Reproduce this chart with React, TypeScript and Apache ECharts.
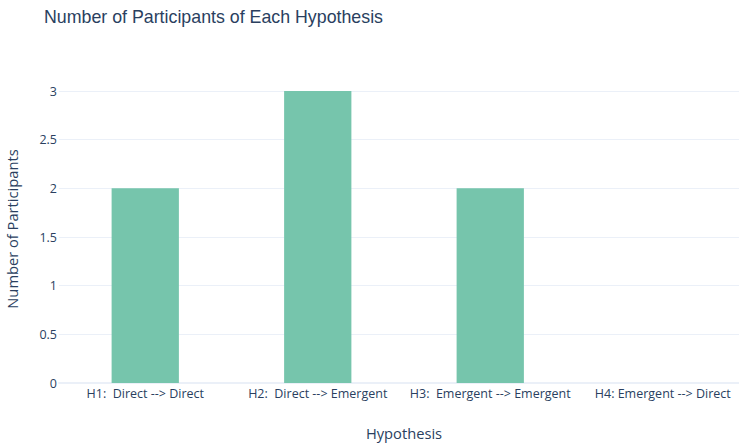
import React, { useEffect, useRef } from "react";
import * as echarts from "echarts";

const categories = [
  "H1:  Direct --> Direct",
  "H2:  Direct --> Emergent",
  "H3:  Emergent --> Emergent",
  "H4: Emergent --> Direct",
];
const participants = [2, 3, 2, 0];
const yTicks = { min: 0, max: 3, interval: 0.5 };

export default function App() {
  const ref = useRef<HTMLDivElement>(null);
  useEffect(() => {
    document.body.style.margin = "0";
    const chart = echarts.init(ref.current!, null, { renderer: "svg" });
    const textColor = "#2a3f5f";
    chart.setOption({
      animation: false,
      backgroundColor: "#ffffff",
      title: {
        text: "Number of Participants of Each Hypothesis",
        left: 39,
        top: 3,
        textStyle: {
          fontFamily: "Liberation Sans, Arial, sans-serif",
          fontSize: 17.8,
          fontWeight: "normal",
          color: textColor,
        },
      },
      grid: {
        left: 59,
        right: -10,
        top: 91,
        bottom: 60,
        containLabel: false,
        outerBoundsMode: "none",
      },
      xAxis: {
        type: "category",
        data: categories,
        name: "Hypothesis",
        nameLocation: "middle",
        nameGap: 42,
        nameTextStyle: { fontFamily: "Open Sans", fontSize: 14.7, color: textColor },
        axisLine: { show: true, lineStyle: { color: "#ebf0f8", width: 2 } },
        axisTick: { show: false },
        axisLabel: {
          fontFamily: "Open Sans",
          fontSize: 12.5,
          color: textColor,
          margin: 4,
          interval: 0,
        },
        splitLine: { show: false },
      },
      yAxis: {
        type: "value",
        min: yTicks.min,
        max: yTicks.max,
        interval: yTicks.interval,
        name: "Number of Participants",
        nameLocation: "middle",
        nameGap: 40,
        nameTextStyle: {
          fontFamily: "Open Sans",
          fontSize: 14.7,
          color: textColor,
          padding: [0, 0, 0, 16],
        },
        axisLine: { show: false },
        axisTick: { show: false },
        axisLabel: {
          fontFamily: "Open Sans",
          fontSize: 12.5,
          color: textColor,
          margin: 2,
        },
        splitLine: { show: true, lineStyle: { color: "#ebf0f8", width: 1 } },
      },
      series: [
        {
          type: "bar",
          data: participants,
          barWidth: "39%",
          itemStyle: { color: "#76c5ac" },
        },
      ],
    });
    return () => chart.dispose();
  }, []);
  return <div ref={ref} style={{ width: 739, height: 443 }} />;
}
